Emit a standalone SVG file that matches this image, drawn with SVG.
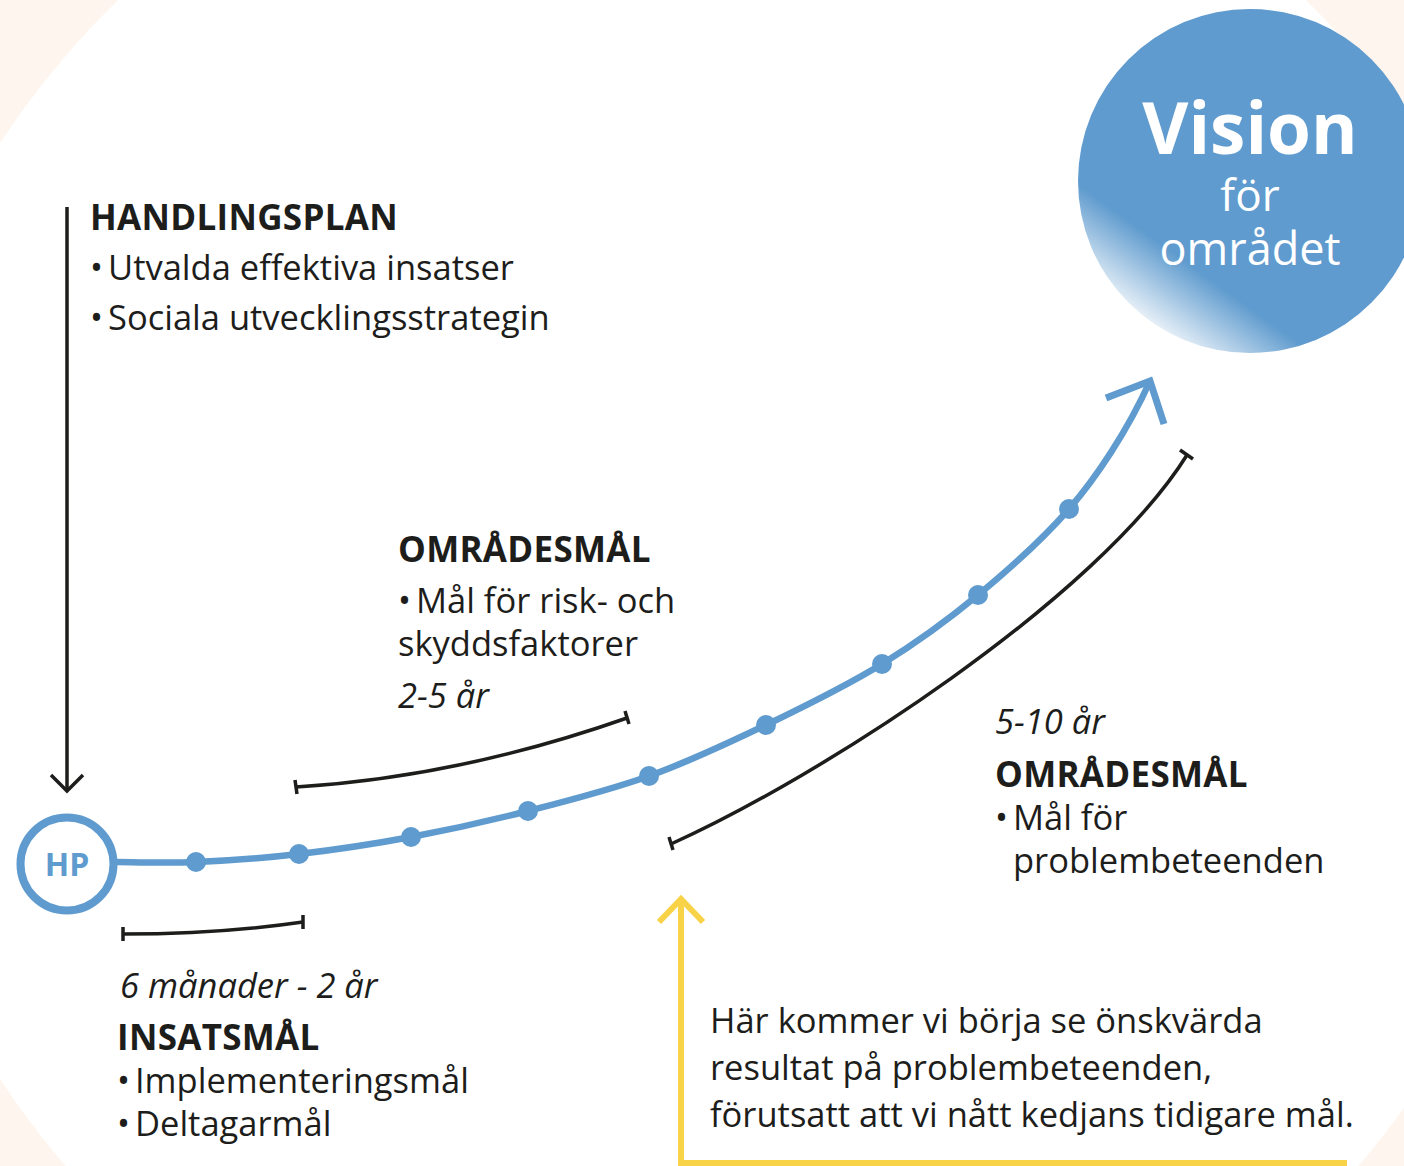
<svg xmlns="http://www.w3.org/2000/svg" width="1404" height="1166" viewBox="0 0 1404 1166">
<style>
.t{font-family:"Open Sans","Noto Sans",sans-serif;font-size:34.5px;fill:#1d1d1b}
.b{font-weight:bold;font-size:35px;letter-spacing:0.3px}
.i{font-style:italic}
.blue{fill:none;stroke:#5f9bce;stroke-linecap:butt}
.blk{fill:none;stroke:#1d1d1b;stroke-width:3.5}
.yel{fill:none;stroke:#f8d348;stroke-width:6}
.dot{fill:#5f9bce}
</style>
<defs>
<linearGradient id="vg" gradientUnits="userSpaceOnUse" x1="1105" y1="305" x2="1153" y2="238">
<stop offset="0" stop-color="#ffffff"/>
<stop offset="1" stop-color="#5f9bce"/>
</linearGradient>
</defs>
<g id="background">
<rect x="0" y="0" width="1404" height="1166" fill="#fdf5ee"/>
<circle cx="712" cy="611" r="852" fill="#ffffff"/>
</g>
<g id="connectors">
<path id="main-curve" class="blue" stroke-width="6.5" d="M117,862 C130,862 165.7,863.3 196,862 C226.3,860.7 263.2,858.2 299,854 C334.8,849.8 372.8,844.2 411,837 C449.2,829.8 488.3,821.2 528,811 C567.7,800.8 609.3,790.3 649,776 C688.7,761.7 727.2,743.7 766,725 C804.8,706.3 846.7,685.7 882,664 C917.3,642.3 946.8,620.8 978,595 C1009.2,569.2 1042,540 1069,509 C1096,478 1128,430 1150,381"/>
<polyline class="blue" stroke-width="7" stroke-linejoin="miter" points="1106,398 1150,381 1164,424"/>
<g id="dots">
<circle class="dot" cx="196" cy="862" r="10"/>
<circle class="dot" cx="299" cy="854" r="10"/>
<circle class="dot" cx="411" cy="837" r="10"/>
<circle class="dot" cx="528" cy="811" r="10"/>
<circle class="dot" cx="649" cy="776" r="10"/>
<circle class="dot" cx="766" cy="725" r="10"/>
<circle class="dot" cx="882" cy="664" r="10"/>
<circle class="dot" cx="978" cy="595" r="10"/>
<circle class="dot" cx="1069" cy="509" r="10"/>
</g>
<g id="handlingsplan-arrow">
<line class="blk" x1="67" y1="207" x2="67" y2="790"/>
<polyline class="blk" stroke-width="4" points="51,775 67,791 83,775"/>
</g>
<g id="yellow-arrow">
<polyline class="yel" points="681,898 681,1163 1347,1163"/>
<polyline class="yel" stroke-linejoin="miter" points="659,922 681,899 703,922"/>
</g>
<g id="spans">
<path class="blk" d="M123,934 Q220,934 303,922"/>
<line class="blk" x1="123" y1="927" x2="123" y2="941"/>
<line class="blk" x1="303" y1="915" x2="303" y2="929"/>
<path class="blk" d="M296,787 Q459,777 627,718"/>
<line class="blk" x1="295" y1="780" x2="297" y2="794"/>
<line class="blk" x1="625" y1="711" x2="629" y2="724"/>
<path class="blk" d="M671,844 C820,777 1097,599 1187,455"/>
<line class="blk" x1="669" y1="837" x2="673" y2="850"/>
<line class="blk" x1="1180" y1="450" x2="1193" y2="459"/>
</g>
</g>
<g id="vision-node">
<circle cx="1250" cy="181" r="172" fill="url(#vg)"/>
<text text-anchor="middle" font-family="Open Sans, sans-serif" fill="#ffffff"><tspan x="1250" y="154" font-weight="bold" font-size="71">Vision</tspan><tspan x="1250" y="211" font-size="44">för</tspan><tspan x="1250" y="265" font-size="45">området</tspan></text>
</g>
<g id="hp-node">
<circle cx="67" cy="864" r="46.5" fill="#ffffff" stroke="#5f9bce" stroke-width="8"/>
<text x="67" y="876" text-anchor="middle" font-family="Open Sans, sans-serif" font-weight="bold" font-size="32" fill="#5f9bce">HP</text>
</g>
<g id="handlingsplan-text">
<text class="t b" x="90" y="230">HANDLINGSPLAN</text>
<text class="t" x="90" y="280">•<tspan dx="5">Utvalda effektiva insatser</tspan></text>
<text class="t" x="90" y="330">•<tspan dx="5">Sociala utvecklingsstrategin</tspan></text>
</g>
<g id="omradesmal-1">
<text class="t b" x="398" y="562">OMRÅDESMÅL</text>
<text class="t" x="398" y="613">•<tspan dx="5">Mål för risk- och</tspan></text>
<text class="t" x="398" y="656">skyddsfaktorer</text>
<text class="t i" x="398" y="708">2-5 år</text>
</g>
<g id="omradesmal-2">
<text class="t i" x="995" y="734">5-10 år</text>
<text class="t b" x="995" y="787">OMRÅDESMÅL</text>
<text class="t" x="995" y="830">•<tspan dx="5">Mål för</tspan></text>
<text class="t" x="1013" y="873">problembeteenden</text>
</g>
<g id="insatsmal">
<text class="t i" x="120" y="998">6 månader - 2 år</text>
<text class="t b" x="117" y="1050">INSATSMÅL</text>
<text class="t" x="117" y="1093">•<tspan dx="5">Implementeringsmål</tspan></text>
<text class="t" x="117" y="1136">•<tspan dx="5">Deltagarmål</tspan></text>
</g>
<g id="note">
<text class="t" x="710" y="1033">Här kommer vi börja se önskvärda</text>
<text class="t" x="710" y="1080">resultat på problembeteenden,</text>
<text class="t" x="710" y="1127">förutsatt att vi nått kedjans tidigare mål.</text>
</g>
</svg>
